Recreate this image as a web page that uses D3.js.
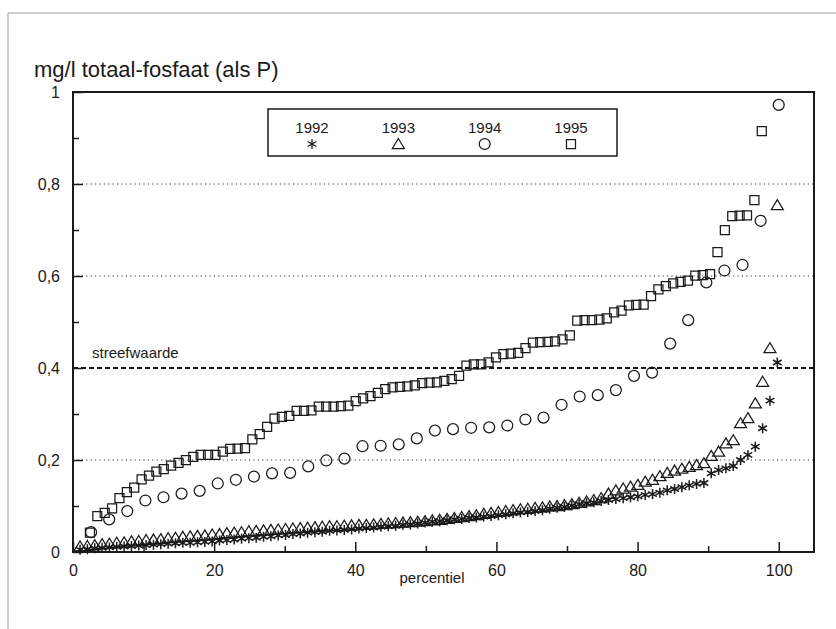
<!DOCTYPE html>
<html>
<head>
<meta charset="utf-8">
<script src="https://cdn.jsdelivr.net/npm/d3@7"></script>
<style>
  body { margin: 0; background: #fff; }
  text { font-family: "Liberation Sans", Arial, sans-serif; fill: #1a1a1a; }
</style>
</head>
<body>
<svg id="chart" width="836" height="629"></svg>
<script>
// percentiel-waarden per jaar (mg/l totaal-fosfaat als P)
var years = ["1992", "1993", "1994", "1995"];

var values1992 = [0.005,0.006,0.008,0.009,0.010,0.011,0.012,0.013,0.014,0.015,
  0.016,0.017,0.018,0.019,0.020,0.020,0.021,0.022,0.023,0.025,
  0.026,0.027,0.029,0.030,0.031,0.033,0.034,0.036,0.037,0.039,
  0.040,0.042,0.043,0.044,0.046,0.047,0.048,0.049,0.051,0.052,
  0.053,0.055,0.056,0.057,0.059,0.060,0.062,0.064,0.066,0.067,
  0.069,0.071,0.072,0.074,0.075,0.077,0.078,0.080,0.082,0.084,
  0.086,0.087,0.089,0.091,0.094,0.096,0.098,0.101,0.104,0.106,
  0.108,0.111,0.113,0.115,0.117,0.119,0.121,0.124,0.126,0.129,
  0.134,0.137,0.141,0.145,0.148,0.150,0.171,0.178,0.182,0.187,
  0.200,0.211,0.229,0.269,0.329,0.412];

var values1993 = [0.012,0.013,0.015,0.017,0.018,0.020,0.021,0.023,0.024,0.026,
  0.027,0.028,0.030,0.031,0.033,0.034,0.035,0.036,0.038,0.039,
  0.041,0.042,0.043,0.045,0.046,0.047,0.048,0.049,0.050,0.051,
  0.052,0.053,0.054,0.055,0.056,0.056,0.057,0.058,0.059,0.059,
  0.060,0.061,0.062,0.063,0.064,0.065,0.066,0.067,0.069,0.070,
  0.072,0.074,0.076,0.078,0.080,0.083,0.085,0.087,0.089,0.091,
  0.093,0.094,0.096,0.097,0.099,0.100,0.102,0.104,0.107,0.110,
  0.113,0.117,0.127,0.134,0.138,0.142,0.146,0.153,0.157,0.165,
  0.172,0.177,0.181,0.185,0.189,0.193,0.209,0.218,0.236,0.243,
  0.280,0.291,0.323,0.370,0.443,0.754];

var values1994 = [0.043,0.071,0.089,0.112,0.119,0.127,0.133,0.149,0.157,0.164,
  0.171,0.172,0.186,0.199,0.203,0.230,0.231,0.234,0.247,0.264,
  0.267,0.270,0.271,0.275,0.288,0.292,0.320,0.338,0.341,0.352,
  0.383,0.390,0.453,0.504,0.586,0.612,0.624,0.720,0.972];

var values1995 = [0.042,0.078,0.085,0.095,0.117,0.130,0.140,0.158,0.166,0.175,
  0.180,0.188,0.194,0.200,0.207,0.211,0.211,0.211,0.218,0.224,
  0.225,0.226,0.245,0.256,0.272,0.290,0.294,0.296,0.307,0.307,
  0.308,0.316,0.316,0.316,0.317,0.318,0.328,0.334,0.339,0.346,
  0.354,0.358,0.359,0.360,0.362,0.367,0.368,0.369,0.372,0.376,
  0.383,0.405,0.408,0.408,0.412,0.423,0.430,0.431,0.433,0.443,
  0.455,0.456,0.457,0.458,0.462,0.471,0.503,0.504,0.504,0.505,
  0.508,0.521,0.525,0.536,0.537,0.538,0.556,0.571,0.578,0.584,
  0.587,0.590,0.601,0.602,0.604,0.652,0.700,0.730,0.731,0.732,
  0.765,0.915];

// eerste en laatste percentiel van elke reeks
var pctRange1992 = [1.0, 99.8];
var pctRange1993 = [1.0, 99.8];
var pctRange1994 = [100 / 39, 100];
var pctRange1995 = [2.4, 97.6];

var xTicks = [0, 20, 40, 60, 80, 100];
var xMinorTicks = [0, 10, 20, 30, 40, 50, 60, 70, 80, 90, 100];
var yTicks = [0, 0.2, 0.4, 0.6, 0.8, 1];
var yMinorTicks = [0, 0.1, 0.2, 0.3, 0.4, 0.5, 0.6, 0.7, 0.8, 0.9, 1];
var gridValues = [0.2, 0.6, 0.8];
var streefwaarde = 0.4;

var margin = {top: 92, right: 22, bottom: 77, left: 73};

var svg = d3.select("#chart");
var width = +svg.attr("width") - margin.left - margin.right;
var height = +svg.attr("height") - margin.top - margin.bottom;

// randje van de figuur
svg.append("line").attr("x1", 8).attr("x2", 8).attr("y1", 13).attr("y2", 629)
  .attr("stroke", "#9a9a9a").attr("stroke-width", 1);
svg.append("line").attr("x1", 8).attr("x2", 836).attr("y1", 13).attr("y2", 13)
  .attr("stroke", "#9a9a9a").attr("stroke-width", 1);

var g = svg.append("g").attr("transform", `translate(${margin.left}, ${margin.top})`);

var x = d3.scaleLinear().domain([0, 105]).range([0, width]);
var y = d3.scaleLinear().domain([0, 1]).range([height, 0]);

function toPoints(vals, range) {
  var step = (range[1] - range[0]) / (vals.length - 1);
  return vals.map((v, i) => ({p: range[0] + i * step, v: v}));
}

var series = [
  {year: "1992", shape: "star", data: toPoints(values1992, pctRange1992)},
  {year: "1993", shape: "triangle", data: toPoints(values1993, pctRange1993)},
  {year: "1994", shape: "circle", data: toPoints(values1994, pctRange1994)},
  {year: "1995", shape: "square", data: toPoints(values1995, pctRange1995)}
];

// stippellijnen
g.selectAll(".grid").data(gridValues).enter().append("line")
  .attr("x1", 0).attr("x2", width)
  .attr("y1", d => y(d)).attr("y2", d => y(d))
  .attr("stroke", "#333").attr("stroke-width", 1)
  .attr("stroke-dasharray", "1.2,3.2");

// streefwaarde
g.append("line")
  .attr("x1", 0).attr("x2", width)
  .attr("y1", y(streefwaarde)).attr("y2", y(streefwaarde))
  .attr("stroke", "#111").attr("stroke-width", 2)
  .attr("stroke-dasharray", "5,3");
g.append("text").attr("x", 19).attr("y", y(streefwaarde) - 10)
  .attr("font-size", 15).text("streefwaarde");

// assen: maatstreepjes naar binnen
var xa = g.append("g").attr("transform", `translate(0, ${height})`)
  .call(d3.axisBottom(x).tickValues(xMinorTicks).tickSize(-6).tickFormat(""));
xa.select(".domain").remove();
xa.selectAll(".tick line").attr("stroke", "#1a1a1a").attr("stroke-width", 1.5)
  .attr("y2", d => d % 20 === 0 ? -10 : -6);

var xl = g.append("g").attr("transform", `translate(0, ${height})`)
  .call(d3.axisBottom(x).tickValues(xTicks).tickSize(0).tickPadding(13));
xl.select(".domain").remove();
xl.selectAll("text").attr("font-size", 16).attr("font-family", "Liberation Sans, Arial, sans-serif");

var ya = g.append("g")
  .call(d3.axisLeft(y).tickValues(yMinorTicks).tickSize(-6).tickFormat(""));
ya.select(".domain").remove();
ya.selectAll(".tick line").attr("stroke", "#1a1a1a").attr("stroke-width", 1.5)
  .attr("x2", (d, i) => i % 2 === 0 ? 10 : 6);

var yl = g.append("g")
  .call(d3.axisLeft(y).tickValues(yTicks).tickSize(0).tickPadding(13)
    .tickFormat(d => d === 0 ? "0" : d === 1 ? "1" : d3.format(".1f")(d).replace(".", ",")));
yl.select(".domain").remove();
yl.selectAll("text").attr("font-size", 16).attr("font-family", "Liberation Sans, Arial, sans-serif");

// kader
g.append("rect").attr("x", 0).attr("y", 0).attr("width", width).attr("height", height)
  .attr("fill", "none").attr("stroke", "#1a1a1a").attr("stroke-width", 2);

// symbolen
function symbolPath(shape) {
  if (shape === "square") return "M-4.5,-4.5H4.5V4.5H-4.5Z";
  if (shape === "circle") return d3.symbol().type(d3.symbolCircle).size(Math.PI * 30)();
  if (shape === "triangle") return "M0,-5.5L6,4.5H-6Z";
  // asterisk: drie lijnen
  var r = 5;
  var a = r * Math.cos(Math.PI / 6), b = r * Math.sin(Math.PI / 6);
  return `M0,${-r}V${r}M${-a},${-b}L${a},${b}M${-a},${b}L${a},${-b}`;
}

series.forEach(function(s) {
  g.append("g").attr("class", "s" + s.year)
    .selectAll("path").data(s.data).enter().append("path")
    .attr("transform", d => `translate(${x(d.p)}, ${y(d.v)})`)
    .attr("d", symbolPath(s.shape))
    .attr("fill", "none").attr("stroke", "#1a1a1a")
    .attr("stroke-width", s.shape === "star" ? 1.5 : 1.25);
});

// legenda
var leg = svg.append("g");
leg.append("rect").attr("x", 268).attr("y", 109).attr("width", 349).attr("height", 47)
  .attr("fill", "#fff").attr("stroke", "#1a1a1a").attr("stroke-width", 1.5);
var legX = d3.scalePoint().domain(years).range([312, 571]);
series.forEach(function(s) {
  leg.append("text").attr("x", legX(s.year)).attr("y", 133)
    .attr("text-anchor", "middle").attr("font-size", 15).text(s.year);
  leg.append("path").attr("transform", `translate(${legX(s.year)}, 144)`)
    .attr("d", symbolPath(s.shape)).attr("fill", "none")
    .attr("stroke", "#1a1a1a").attr("stroke-width", 1.25);
});

// titels
svg.append("text").attr("x", 34).attr("y", 77).attr("font-size", 22)
  .text("mg/l totaal-fosfaat (als P)");
svg.append("text").attr("x", 432).attr("y", margin.top + height + 31)
  .attr("text-anchor", "middle").attr("font-size", 15).text("percentiel");
</script>
</body>
</html>
